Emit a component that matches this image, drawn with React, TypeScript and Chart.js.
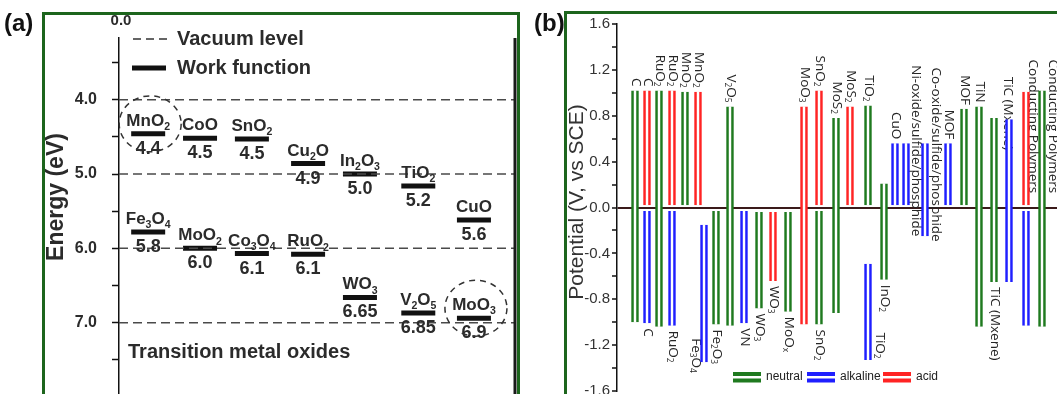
import React, { useEffect, useRef } from 'react';
import { Chart, registerables } from 'chart.js';

Chart.register(...registerables);

// ---------------- Panel (a): work functions of transition metal oxides ----------------
const oxideNames = ['MnO_2', 'CoO', 'SnO_2', 'Cu_2O', 'In_2O_3', 'TiO_2', 'CuO', 'Fe_3O_4', 'MoO_2', 'Co_3O_4', 'RuO_2', 'WO_3', 'V_2O_5', 'MoO_3'];
const oxideColumn = [0, 1, 2, 3, 4, 5, 6, 0, 1, 2, 3, 4, 5, 6];
const workFunction = [4.46, 4.52, 4.53, 4.86, 5.0, 5.16, 5.62, 5.78, 6.0, 6.07, 6.08, 6.66, 6.87, 6.94];
const workFunctionLabels = ['4.4', '4.5', '4.5', '4.9', '5.0', '5.2', '5.6', '5.8', '6.0', '6.1', '6.1', '6.65', '6.85', '6.9'];
const columnPositions = [0.54, 1.5, 2.46, 3.5, 4.46, 5.54, 6.57];
const vacuumLevels = [4, 5, 6, 7];
const energyTicks = [3.5, 4, 4.5, 5, 5.5, 6, 6.5, 7, 7.5];
const highlightedOxides = ['MnO_2', 'MoO_3'];

// ---------------- Panel (b): potential windows ----------------
const windowMaterials = ['C', 'C', 'C', 'RuO_2', 'RuO_2', 'RuO_2', 'MnO_2', 'MnO_2', 'Fe_3O_4', 'Fe_2O_3', 'V_2O_5', 'VN', 'WO_3', 'WO_3', 'MoO_x', 'MoO_3', 'SnO_2', 'SnO_2', 'MoS_2', 'MoS_2', 'TiO_2', 'TiO_2', 'InO_2', 'CuO', 'Ni-oxide/sulfide/phosphide', 'Co-oxide/sulfide/phosphide', 'MOF', 'MOF', 'TiN', 'TiC (Mxene)', 'TiC (Mxene)', 'Conducting Polymers', 'Conducting Polymers', 'Conducting Polymers'];
const windowElectrolyte = ['neutral', 'acid', 'alkaline', 'neutral', 'acid', 'alkaline', 'neutral', 'acid', 'alkaline', 'neutral', 'neutral', 'alkaline', 'neutral', 'acid', 'neutral', 'acid', 'acid', 'neutral', 'neutral', 'acid', 'neutral', 'alkaline', 'neutral', 'alkaline', 'alkaline', 'alkaline', 'alkaline', 'neutral', 'neutral', 'neutral', 'alkaline', 'acid', 'alkaline', 'neutral'];
const windowSlot = [1.8, 3.0, 3.0, 4.2, 5.5, 5.5, 6.8, 8.1, 8.7, 9.9, 11.3, 12.7, 14.2, 15.6, 17.1, 18.7, 20.2, 20.2, 21.9, 23.3, 25.1, 25.1, 26.7, 27.8, 28.9, 30.8, 33.1, 34.7, 36.2, 37.7, 39.2, 40.9, 40.9, 42.5];
const windowLow = [-1.0, 0.02, -1.01, -1.04, 0.02, -1.03, 0.02, 0.02, -1.35, -1.02, -1.03, -1.01, -0.88, -0.64, -0.91, -1.02, 0.02, -1.02, -0.92, 0.02, 0.02, -1.33, -0.63, 0.02, 0.02, -0.25, 0.02, 0.02, -1.04, -0.65, -0.65, 0.02, -1.03, -1.04];
const windowHigh = [1.02, 1.02, -0.03, 1.02, 1.02, -0.03, 1.01, 1.01, -0.15, -0.03, 0.88, -0.03, -0.04, -0.04, -0.04, 0.88, 1.02, -0.03, 0.78, 0.88, 0.89, -0.49, 0.21, 0.56, 0.56, 0.56, 0.56, 0.86, 0.88, 0.78, 0.77, 1.01, -0.03, 1.02];
const electrolytes = ['neutral', 'alkaline', 'acid'];
const potentialTickStep = 0.2;

// label placement (layout only)
const windowLabelSide = ['top', 'top', 'bottom', 'top', 'top', 'bottom', 'top', 'top', 'free', 'bottom', 'top', 'bottom', 'bottom', 'bottom', 'bottom', 'top', 'top', 'bottom', 'top', 'top', 'top', 'free', 'bottom', 'top', 'free', 'free', 'top', 'top', 'top', 'bottom', 'free', 'free', 'none', 'free'];
const freeLabelAnchor: Record<number, [number, number]> = {
  8: [7.9, -1.14],
  21: [26.3, -1.09],
  24: [29.9, 1.24],
  25: [31.9, 1.22],
  30: [39.1, 1.14],
  31: [41.6, 1.29],
  33: [43.6, 1.29],
};

const electrolyteColor: Record<string, string> = { neutral: '#1f7a1f', alkaline: '#1f1fff', acid: '#ff2424' };
const FRAME_GREEN = '#1d651d';
const TEXT_A = '#2b2b2b';
const SANS = '"Liberation Sans", Arial, sans-serif';
const OPEN = '"Open Sans", "Liberation Sans", sans-serif';

type Seg = { t: string; sub: boolean };
function parseRich(text: string): Seg[] {
  const segs: Seg[] = [];
  let buf = '';
  for (let i = 0; i < text.length; i++) {
    const ch = text[i];
    if (ch === '_' && i + 1 < text.length) {
      if (buf) { segs.push({ t: buf, sub: false }); buf = ''; }
      segs.push({ t: text[i + 1], sub: true });
      i++;
    } else buf += ch;
  }
  if (buf) segs.push({ t: buf, sub: false });
  return segs;
}

function drawRich(ctx: CanvasRenderingContext2D, text: string, x: number, y: number, size: number, weight: string, family: string, align: 'left' | 'center' | 'right') {
  const segs = parseRich(text);
  const subSize = size * 0.62;
  const fontFor = (s: Seg) => `${weight} ${s.sub ? subSize : size}px ${family}`;
  let w = 0;
  for (const s of segs) { ctx.font = fontFor(s); w += ctx.measureText(s.t).width; }
  let cx = align === 'center' ? x - w / 2 : align === 'right' ? x - w : x;
  ctx.textAlign = 'left';
  for (const s of segs) {
    ctx.font = fontFor(s);
    ctx.fillText(s.t, cx, s.sub ? y + size * 0.25 : y);
    cx += ctx.measureText(s.t).width;
  }
  return w;
}

const panelAPlugin = {
  id: 'panelA',
  afterDraw(chart: any) {
    const { ctx, chartArea } = chart;
    ctx.save();
    // frame
    ctx.strokeStyle = FRAME_GREEN;
    ctx.lineWidth = 3;
    ctx.strokeRect(43.5, 13.5, 475, 500);
    // right plot border
    ctx.strokeStyle = '#1a1a1a';
    ctx.lineWidth = 3;
    ctx.beginPath();
    ctx.moveTo(chartArea.right, chartArea.top);
    ctx.lineTo(chartArea.right, chart.height);
    ctx.stroke();

    ctx.fillStyle = '#111';
    ctx.textBaseline = 'middle';
    ctx.font = `bold 24px ${SANS}`;
    ctx.textAlign = 'left';
    ctx.fillText('(a)', 4, 24);

    ctx.fillStyle = TEXT_A;
    ctx.font = `bold 15px ${SANS}`;
    ctx.textAlign = 'center';
    ctx.fillText('0.0', chartArea.left + 2, 21);

    // axis title
    ctx.save();
    ctx.translate(57, 197);
    ctx.rotate(-Math.PI / 2);
    ctx.font = `bold 23px ${SANS}`;
    ctx.textAlign = 'center';
    ctx.fillText('Energy (eV)', 0, 0);
    ctx.restore();

    // legend
    ctx.strokeStyle = '#333';
    ctx.lineWidth = 1.5;
    ctx.setLineDash([8, 5]);
    ctx.beginPath();
    ctx.moveTo(133, 39);
    ctx.lineTo(172, 39);
    ctx.stroke();
    ctx.setLineDash([]);
    ctx.strokeStyle = '#111';
    ctx.lineWidth = 5;
    ctx.beginPath();
    ctx.moveTo(132, 68);
    ctx.lineTo(166, 68);
    ctx.stroke();
    ctx.font = `bold 20px ${SANS}`;
    ctx.textAlign = 'left';
    ctx.fillText('Vacuum level', 177, 39);
    ctx.fillText('Work function', 177, 68);
    ctx.fillText('Transition metal oxides', 128, 352);

    // bar labels
    const meta = chart.getDatasetMeta(chart.data.datasets.length - 1);
    ctx.textBaseline = 'alphabetic';
    meta.data.forEach((pt: any, i: number) => {
      drawRich(ctx, oxideNames[i], pt.x, pt.y - 8, 17, 'bold', SANS, 'center');
      drawRich(ctx, workFunctionLabels[i], pt.x, pt.y + 20, 18, 'bold', SANS, 'center');
    });

    // dashed highlight circles
    ctx.strokeStyle = '#333';
    ctx.lineWidth = 1.5;
    ctx.setLineDash([6, 5]);
    highlightedOxides.forEach((name) => {
      const pt = meta.data[oxideNames.indexOf(name)];
      ctx.beginPath();
      ctx.ellipse(pt.x + 2, pt.y - 10, 31, 28, 0, 0, Math.PI * 2);
      ctx.stroke();
    });
    ctx.restore();
  },
};

const panelBPlugin = {
  id: 'panelB',
  beforeDatasetsDraw(chart: any) {
    const { ctx, scales } = chart;
    const xs = scales.x, ys = scales.y;
    ctx.save();
    ctx.fillStyle = '#262626';
    ctx.textBaseline = 'middle';
    windowMaterials.forEach((name, i) => {
      const side = windowLabelSide[i];
      if (side === 'none') return;
      let px: number, py: number, align: 'left' | 'right';
      if (side === 'top') {
        px = xs.getPixelForValue(windowSlot[i]) + 1;
        py = ys.getPixelForValue(windowHigh[i]) - 4;
        align = 'right';
      } else if (side === 'bottom') {
        px = xs.getPixelForValue(windowSlot[i]) + 1;
        py = ys.getPixelForValue(windowLow[i]) + 5;
        align = 'left';
      } else {
        const [ax, ay] = freeLabelAnchor[i];
        px = xs.getPixelForValue(ax);
        py = ys.getPixelForValue(ay);
        align = 'left';
      }
      ctx.save();
      ctx.translate(px, py);
      ctx.rotate(Math.PI / 2);
      drawRich(ctx, name, 0, 0, 13.5, 'normal', OPEN, align);
      ctx.restore();
    });
    ctx.restore();
  },
  afterDraw(chart: any) {
    const { ctx } = chart;
    ctx.save();
    ctx.strokeStyle = FRAME_GREEN;
    ctx.lineWidth = 3;
    ctx.strokeRect(35.5, 12.5, 600, 500);

    ctx.fillStyle = '#111';
    ctx.textBaseline = 'middle';
    ctx.textAlign = 'left';
    ctx.font = `bold 24px ${SANS}`;
    ctx.fillText('(b)', 4, 24);

    ctx.fillStyle = '#333';
    ctx.save();
    ctx.translate(47, 202);
    ctx.rotate(-Math.PI / 2);
    ctx.textAlign = 'center';
    ctx.font = `21px ${SANS}`;
    ctx.fillText('Potential (V, vs SCE)', 0, 0);
    ctx.restore();

    // legend
    const starts = [203, 277, 353];
    chart.data.datasets.forEach((ds: any, k: number) => {
      const x0 = starts[k];
      ctx.fillStyle = ds.borderColor;
      ctx.fillRect(x0, 372, 28, 4);
      ctx.fillRect(x0, 378.5, 28, 4);
      ctx.fillStyle = '#222';
      ctx.font = `12px ${SANS}`;
      ctx.textAlign = 'left';
      ctx.fillText(ds.label, x0 + 33, 377);
    });
    ctx.restore();
  },
};

function makeConfigA(): any {
  const xMax = 7.33;
  return {
    type: 'scatter',
    data: {
      datasets: [
        ...vacuumLevels.map((v) => ({
          label: 'Vacuum level',
          data: [{ x: 0, y: v }, { x: xMax, y: v }],
          showLine: true,
          borderColor: '#4a4a4a',
          borderWidth: 1.5,
          borderDash: [9, 5],
          pointRadius: 0,
        })),
        {
          label: 'Work function',
          data: workFunction.map((w, i) => ({ x: columnPositions[oxideColumn[i]], y: w })),
          pointStyle: 'line',
          pointRadius: 17,
          pointHoverRadius: 17,
          borderWidth: 5,
          borderColor: '#111',
          backgroundColor: '#111',
        },
      ],
    },
    options: {
      responsive: false,
      animation: false,
      devicePixelRatio: 1,
      layout: { autoPadding: false, padding: { left: 0, top: 38, right: 15, bottom: 0 } },
      plugins: { legend: { display: false }, tooltip: { enabled: false } },
      events: [],
      scales: {
        x: { type: 'linear', min: 0, max: xMax, display: false },
        y: {
          type: 'linear',
          reverse: true,
          min: 3.17,
          max: 7.96,
          afterBuildTicks: (s: any) => { s.ticks = energyTicks.map((v) => ({ value: v })); },
          afterFit: (s: any) => { s.width = 119; s.paddingTop = 0; s.paddingBottom = 0; },
          ticks: {
            callback: (v: number) => (Number.isInteger(v) && v >= 4 ? v.toFixed(1) : ''),
            font: { family: SANS, size: 16, weight: 'bold' },
            color: TEXT_A,
            padding: 15,
          },
          grid: { drawOnChartArea: false, tickLength: 7, tickColor: '#111', tickWidth: 1.5 },
          border: { color: '#111', width: 1.5 },
        },
      },
    },
    plugins: [panelAPlugin],
  };
}

function makeConfigB(): any {
  const idx = windowMaterials.map((_, i) => i);
  return {
    type: 'bar',
    data: {
      datasets: electrolytes.map((e) => ({
        label: e,
        data: idx.filter((i) => windowElectrolyte[i] === e).map((i) => ({ x: windowSlot[i], y: [windowLow[i], windowHigh[i]] })),
        backgroundColor: '#ffffff',
        borderColor: electrolyteColor[e],
        borderWidth: { left: 2.6, right: 2.6, top: 0, bottom: 0 },
        borderSkipped: false,
        barThickness: 7,
        grouped: false,
      })),
    },
    options: {
      responsive: false,
      animation: false,
      devicePixelRatio: 1,
      events: [],
      layout: { autoPadding: false, padding: { left: 0, top: 24, right: 0, bottom: 3 } },
      plugins: { legend: { display: false }, tooltip: { enabled: false } },
      scales: {
        x: { type: 'linear', min: 0, max: 44, display: false, offset: false },
        y: {
          type: 'linear',
          min: -1.6,
          max: 1.6,
          afterFit: (s: any) => { s.width = 87; s.paddingTop = 0; s.paddingBottom = 0; },
          ticks: {
            stepSize: potentialTickStep,
            callback: (v: number) => (Math.round(v * 10) % 4 === 0 ? (Math.abs(v) < 1e-9 ? '0.0' : v.toFixed(1)) : ''),
            font: { family: SANS, size: 15 },
            color: '#333',
            padding: 2,
          },
          grid: {
            color: (c: any) => (c.tick && Math.abs(c.tick.value) < 1e-9 ? '#3a1a1a' : 'rgba(0,0,0,0)'),
            lineWidth: 2,
            tickLength: 5,
            tickColor: '#111',
            tickWidth: 1.5,
          },
          border: { color: '#111', width: 1.5 },
        },
      },
    },
    plugins: [panelBPlugin],
  };
}

export default function App() {
  const aRef = useRef<HTMLCanvasElement>(null);
  const bRef = useRef<HTMLCanvasElement>(null);
  useEffect(() => {
    const a = new Chart(aRef.current as HTMLCanvasElement, makeConfigA());
    const b = new Chart(bRef.current as HTMLCanvasElement, makeConfigB());
    return () => { a.destroy(); b.destroy(); };
  }, []);
  return (
    <div style={{ position: 'fixed', left: 0, top: 0, width: 1057, height: 394, overflow: 'hidden', background: '#ffffff' }}>
      <canvas ref={aRef} width={530} height={394} style={{ position: 'absolute', left: 0, top: 0, width: 530, height: 394 }} />
      <canvas ref={bRef} width={527} height={394} style={{ position: 'absolute', left: 530, top: 0, width: 527, height: 394 }} />
    </div>
  );
}
